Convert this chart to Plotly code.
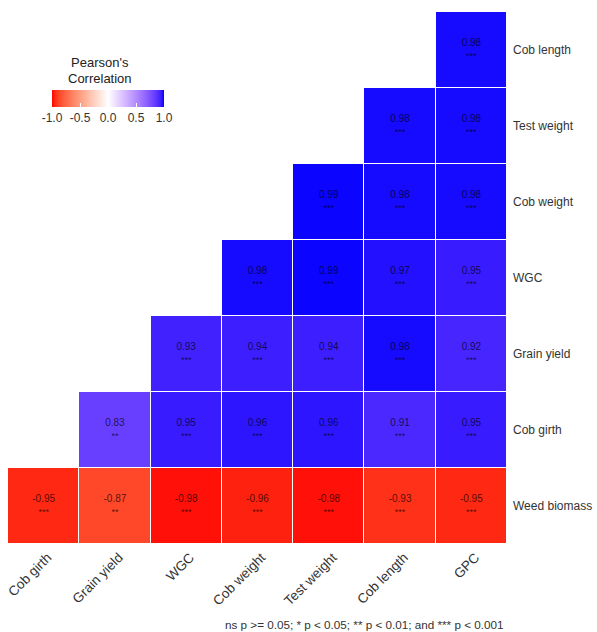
import plotly.graph_objects as go

cols = ["Cob girth", "Grain yield", "WGC", "Cob weight", "Test weight", "Cob length", "GPC"]
rows = ["Cob length", "Test weight", "Cob weight", "WGC", "Grain yield", "Cob girth", "Weed biomass"]

r_cob_length   = [None, None, None, None, None, None, 0.98]
r_test_weight  = [None, None, None, None, None, 0.98, 0.98]
r_cob_weight   = [None, None, None, None, 0.99, 0.98, 0.98]
r_wgc          = [None, None, None, 0.98, 0.99, 0.97, 0.95]
r_grain_yield  = [None, None, 0.93, 0.94, 0.94, 0.98, 0.92]
r_cob_girth    = [None, 0.83, 0.95, 0.96, 0.96, 0.91, 0.95]
r_weed_biomass = [-0.95, -0.87, -0.98, -0.96, -0.98, -0.93, -0.95]

s_cob_length   = [None, None, None, None, None, None, "***"]
s_test_weight  = [None, None, None, None, None, "***", "***"]
s_cob_weight   = [None, None, None, None, "***", "***", "***"]
s_wgc          = [None, None, None, "***", "***", "***", "***"]
s_grain_yield  = [None, None, "***", "***", "***", "***", "***"]
s_cob_girth    = [None, "**", "***", "***", "***", "***", "***"]
s_weed_biomass = ["***", "**", "***", "***", "***", "***", "***"]

z = [r_cob_length, r_test_weight, r_cob_weight, r_wgc, r_grain_yield, r_cob_girth, r_weed_biomass]
stars = [s_cob_length, s_test_weight, s_cob_weight, s_wgc, s_grain_yield, s_cob_girth, s_weed_biomass]

legend_ticks = [-1.0, -0.5, 0.0, 0.5, 1.0]
legend_ticktext = ["-1.0", "-0.5", "0.0", "0.5", "1.0"]
footnote = "ns p >= 0.05; * p < 0.05; ** p < 0.01; and *** p < 0.001"

# --- Lab interpolation (like ggplot2 gradient2) ---
def _lin(c):
    c = c / 255.0
    return c / 12.92 if c <= 0.04045 else ((c + 0.055) / 1.055) ** 2.4

def _delin(c):
    c = 12.92 * c if c <= 0.0031308 else 1.055 * c ** (1 / 2.4) - 0.055
    return max(0, min(255, round(c * 255)))

WX, WY, WZ = 0.95047, 1.0, 1.08883

def rgb2lab(rgb):
    r, g, b = [_lin(v) for v in rgb]
    X = 0.4124 * r + 0.3576 * g + 0.1805 * b
    Y = 0.2126 * r + 0.7152 * g + 0.0722 * b
    Z = 0.0193 * r + 0.1192 * g + 0.9505 * b
    d = 6 / 29
    f = lambda t: t ** (1 / 3) if t > d ** 3 else t / (3 * d * d) + 4 / 29
    fx, fy, fz = f(X / WX), f(Y / WY), f(Z / WZ)
    return (116 * fy - 16, 500 * (fx - fy), 200 * (fy - fz))

def lab2rgb(lab):
    L, a, b = lab
    fy = (L + 16) / 116
    fx = fy + a / 500
    fz = fy - b / 200
    d = 6 / 29
    finv = lambda t: t ** 3 if t > d else 3 * d * d * (t - 4 / 29)
    X, Y, Z = WX * finv(fx), WY * finv(fy), WZ * finv(fz)
    r = 3.2406 * X - 1.5372 * Y - 0.4986 * Z
    g = -0.9689 * X + 1.8758 * Y + 0.0415 * Z
    bb = 0.0557 * X - 0.2040 * Y + 1.0570 * Z
    return tuple(_delin(max(0.0, v)) for v in (r, g, bb))

low, mid, high = rgb2lab((255, 0, 0)), rgb2lab((255, 255, 255)), rgb2lab((0, 0, 255))
colorscale = []
N = 40
for i in range(N + 1):
    t = i / N
    if t <= 0.5:
        u = t / 0.5
        lab = tuple(low[k] + (mid[k] - low[k]) * u for k in range(3))
    else:
        u = (t - 0.5) / 0.5
        lab = tuple(mid[k] + (high[k] - mid[k]) * u for k in range(3))
    r, g, b = lab2rgb(lab)
    colorscale.append([t, f"rgb({r},{g},{b})"])

tx, ty, tt = [], [], []
for i, row in enumerate(rows):
    for j, col in enumerate(cols):
        v = z[i][j]
        if v is None:
            continue
        tx.append(col)
        ty.append(row)
        tt.append(f"{v:.2f}<br><span style='font-size:9px'>{stars[i][j]}</span>")

FONT = "Liberation Sans, Arial, sans-serif"

# plot area: x 8..507, y 12..544 (height 532)
def py(pix):
    return (544 - pix) / 532.0

def px(pix):
    return (pix - 8) / 499.0

fig = go.Figure()
fig.add_trace(go.Heatmap(
    z=z, x=cols, y=rows, zmin=-1, zmax=1, colorscale=colorscale,
    xgap=1, ygap=1, hoverinfo="skip",
    colorbar=dict(
        orientation="h", x=px(108), xanchor="center", y=py(90), yanchor="top",
        lenmode="pixels", len=112, thickness=17, xpad=0, ypad=0,
        outlinewidth=0, tickvals=legend_ticks, ticktext=legend_ticktext,
        ticks="inside", tickcolor="white", ticklen=4,
        tickfont=dict(family=FONT, size=12, color="#333333"),
    ),
))
fig.add_trace(go.Scatter(
    x=tx, y=ty, text=tt, mode="text", hoverinfo="skip", showlegend=False,
    textfont=dict(family=FONT, size=10, color="rgba(0,0,0,0.7)"),
))

fig.update_layout(
    width=597, height=632,
    margin=dict(l=8, r=90, t=12, b=88, autoexpand=False),
    plot_bgcolor="white", paper_bgcolor="white",
    font=dict(family=FONT),
    xaxis=dict(type="category", categoryarray=cols, tickangle=-45, showgrid=False,
               zeroline=False, ticks="", showline=False, automargin=False,
               ticklabelstandoff=2, ticklabelshift=4,
               tickfont=dict(family=FONT, size=13.5, color="#333333")),
    yaxis=dict(type="category", categoryarray=rows, autorange="reversed", side="right",
               showgrid=False, zeroline=False, ticks="", showline=False, automargin=False,
               ticklabelstandoff=5,
               tickfont=dict(family=FONT, size=12, color="#333333")),
    annotations=[
        dict(text="Pearson's", x=px(100), y=py(63), xref="paper", yref="paper",
             showarrow=False, xanchor="center", yanchor="middle",
             font=dict(family=FONT, size=13, color="#222222")),
        dict(text="Correlation", x=px(100), y=py(78), xref="paper", yref="paper",
             showarrow=False, xanchor="center", yanchor="middle",
             font=dict(family=FONT, size=13, color="#222222")),
        dict(text=footnote, x=px(505), y=py(624), xref="paper", yref="paper",
             showarrow=False, xanchor="right", yanchor="middle",
             font=dict(family=FONT, size=11.7, color="#333333")),
    ],
)

fig.write_html("out.html", config={"displayModeBar": False},
               post_script="document.body.style.margin='0';document.body.style.overflow='hidden';")
